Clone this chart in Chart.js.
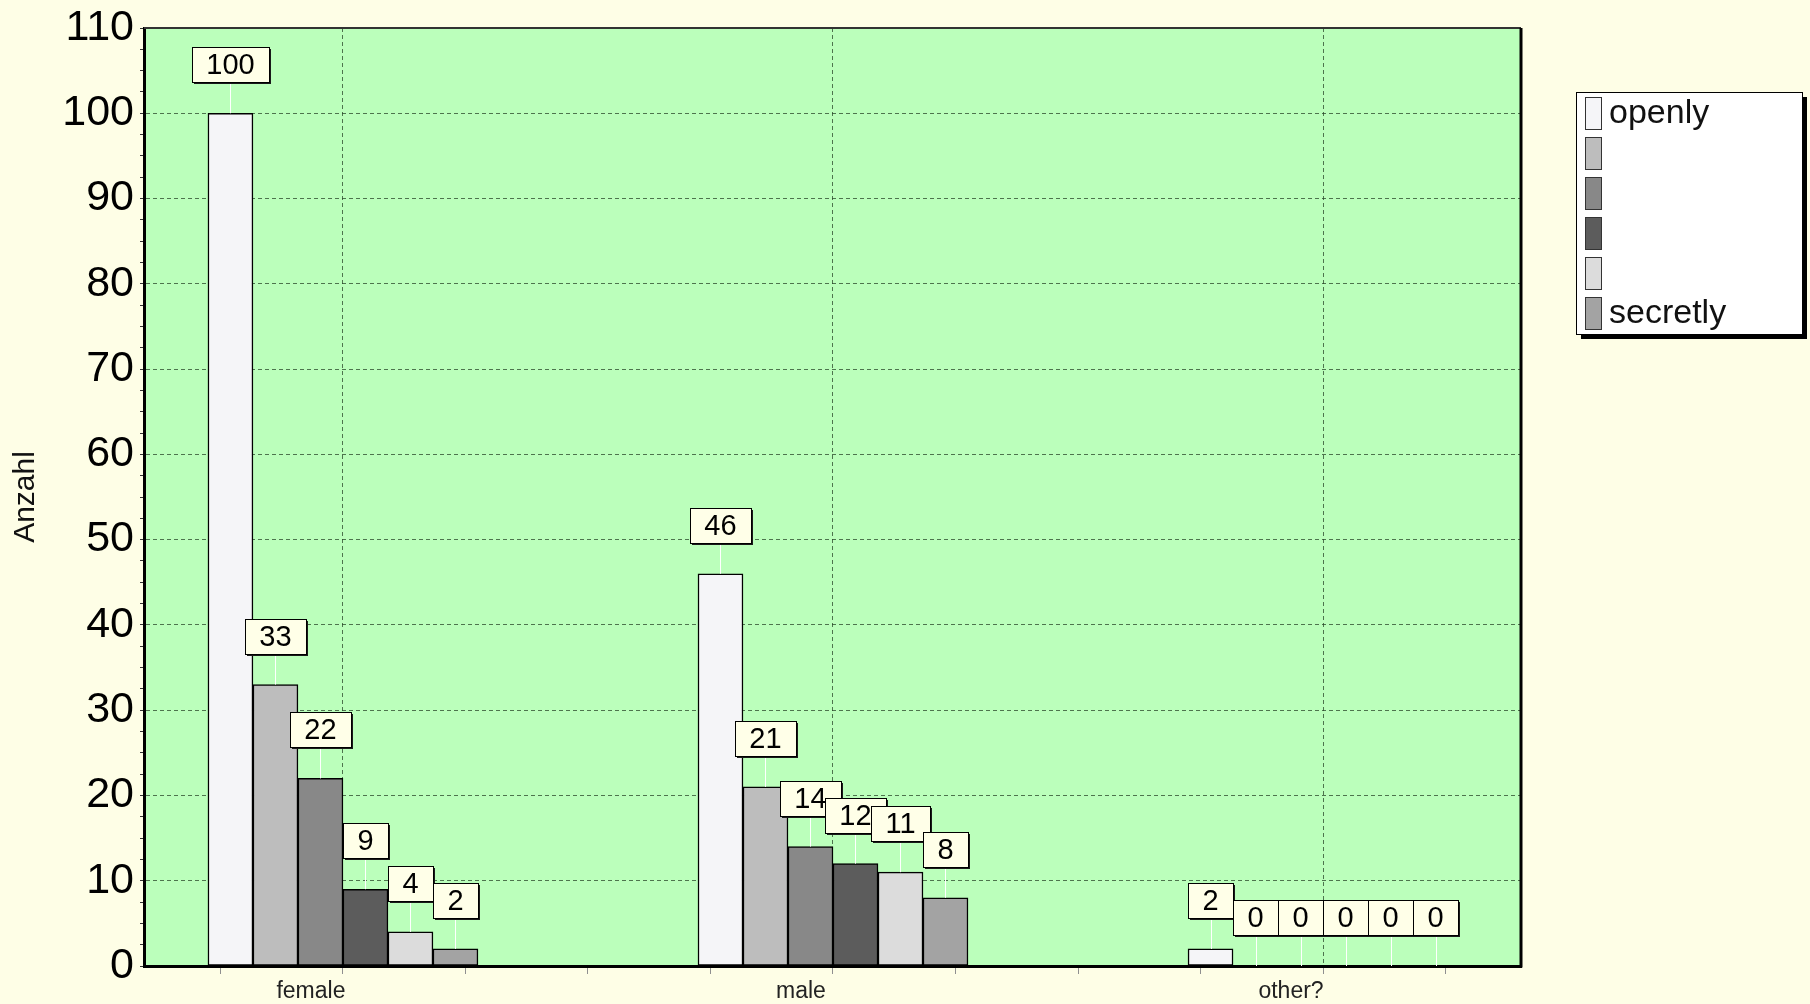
<!DOCTYPE html>
<html>
<head>
<meta charset="utf-8">
<script src="https://cdn.jsdelivr.net/npm/chart.js@4.4.1/dist/chart.umd.min.js"></script>
<style>
html,body{margin:0;padding:0;background:#FEFEE6;}
canvas{display:block;}
</style>
</head>
<body>
<canvas id="c" width="1810" height="1004"></canvas>
<script>
// ---- data ----
const categories = ['female', 'male', 'other?'];
const seriesLabels = ['openly', '', '', '', '', 'secretly'];
const series1 = [100, 46, 2];
const series2 = [33, 21, 0];
const series3 = [22, 14, 0];
const series4 = [9, 12, 0];
const series5 = [4, 11, 0];
const series6 = [2, 8, 0];
const yTickLabels = [0, 10, 20, 30, 40, 50, 60, 70, 80, 90, 100, 110];
const yAxisTitle = 'Anzahl';

// ---- styles ----
const FONT = '"Liberation Sans", Arial, Helvetica, sans-serif';
const seriesColors = ['#F5F5F8', '#BDBDBD', '#888888', '#5C5C5C', '#DCDCDC', '#A3A3A3'];
const allSeries = [series1, series2, series3, series4, series5, series6];
const PAGE_BG = '#FEFEE6';
const PLOT_BG = '#BBFFBB';
const GRID = 'rgba(40,70,40,0.75)';
const isInt = v => Math.abs(v - Math.round(v)) < 1e-6;

const datasets = allSeries.map((s, i) => ({
  label: seriesLabels[i],
  data: s.map((v, j) => ({ x: j, y: v })),
  backgroundColor: seriesColors[i],
  borderColor: '#000',
  borderWidth: 1.5,
  borderSkipped: false,
  barThickness: 45
}));

const framePlugin = {
  id: 'frame',
  beforeDraw(chart) {
    const { ctx, chartArea: a } = chart;
    ctx.save();
    ctx.fillStyle = PAGE_BG;
    ctx.fillRect(0, 0, chart.width, chart.height);
    ctx.fillStyle = PLOT_BG;
    ctx.fillRect(a.left, a.top, a.right - a.left, a.bottom - a.top);
    ctx.restore();
  },
  afterDraw(chart) {
    const { ctx, chartArea: a } = chart;
    ctx.save();
    // top and right frame
    ctx.strokeStyle = '#333';
    ctx.lineWidth = 2;
    ctx.beginPath();
    ctx.moveTo(a.left, a.top);
    ctx.lineTo(a.right, a.top);
    ctx.stroke();
    ctx.strokeStyle = '#000';
    ctx.lineWidth = 3;
    ctx.beginPath();
    ctx.moveTo(a.right, a.top);
    ctx.lineTo(a.right, a.bottom + 1.5);
    ctx.stroke();

    // data labels
    ctx.font = '29px ' + FONT;
    ctx.textAlign = 'center';
    ctx.textBaseline = 'middle';
    chart.data.datasets.forEach((ds, di) => {
      const meta = chart.getDatasetMeta(di);
      meta.data.forEach((bar, j) => {
        const txt = String(ds.data[j].y);
        const tw = ctx.measureText(txt).width;
        const w = Math.round(tw + 29), h = 35;
        const cx = bar.x;
        const x = Math.round(cx - w / 2);
        const yb = Math.round(bar.y - 31);
        const y = yb - h;
        ctx.strokeStyle = '#FFFFFF';
        ctx.lineWidth = 1;
        ctx.beginPath();
        ctx.moveTo(Math.round(cx) + 0.5, yb);
        ctx.lineTo(Math.round(cx) + 0.5, bar.y);
        ctx.stroke();
        ctx.fillStyle = '#1a1a1a';
        ctx.fillRect(x + 2, y + 2, w, h);
        ctx.fillStyle = '#FFFFE8';
        ctx.fillRect(x, y, w, h);
        ctx.strokeStyle = '#000';
        ctx.lineWidth = 1;
        ctx.strokeRect(x + 0.5, y + 0.5, w, h);
        ctx.fillStyle = '#000';
        ctx.fillText(txt, cx, y + h / 2 + 1);
      });
    });

    // legend
    const lx = 1576, ly = 92, lw = 226, lh = 242;
    ctx.fillStyle = '#000';
    ctx.fillRect(lx + 5, ly + 5, lw, lh);
    ctx.fillStyle = '#FFFFFF';
    ctx.fillRect(lx, ly, lw, lh);
    ctx.strokeStyle = '#000';
    ctx.lineWidth = 1;
    ctx.strokeRect(lx + 0.5, ly + 0.5, lw, lh);
    ctx.font = '34px ' + FONT;
    ctx.textAlign = 'left';
    ctx.textBaseline = 'middle';
    chart.data.datasets.forEach((ds, i) => {
      const sy = ly + 5 + 40 * i;
      ctx.fillStyle = ds.backgroundColor;
      ctx.fillRect(lx + 9, sy, 16, 32);
      ctx.strokeStyle = '#333';
      ctx.strokeRect(lx + 9.5, sy + 0.5, 16, 32);
      ctx.fillStyle = '#111';
      ctx.fillText(ds.label, lx + 33, sy + 17);
    });
    ctx.restore();
  }
};

new Chart(document.getElementById('c'), {
  type: 'bar',
  data: { datasets },
  plugins: [framePlugin],
  options: {
    responsive: false,
    animation: false,
    layout: { padding: { left: 0, right: 289, top: 28, bottom: 0 } },
    plugins: { legend: { display: false }, tooltip: { enabled: false }, title: { display: false } },
    scales: {
      x: {
        type: 'linear',
        min: -0.406,
        max: 2.404,
        offset: false,
        afterFit(s) { s.height = 38; },
        grid: {
          offset: false,
          drawOnChartArea: true,
          color: c => (c.tick && isInt(c.tick.value) && c.tick.value >= 0) ? GRID : 'transparent',
          lineWidth: 1,
          tickColor: '#8f8f8f',
          tickLength: 8,
          tickWidth: 1
        },
        border: { display: true, color: '#000', width: 3, dash: [4, 3] },
        ticks: {
          stepSize: 0.25,
          autoSkip: false,
          includeBounds: false,
          maxRotation: 0,
          labelOffset: -32,
          padding: 4,
          color: '#222',
          font: { family: FONT, size: 23 },
          callback: v => (isInt(v) && v >= 0 && v < categories.length) ? categories[Math.round(v)] : ''
        }
      },
      y: {
        type: 'linear',
        min: yTickLabels[0],
        max: yTickLabels[yTickLabels.length - 1],
        afterFit(s) { s.width = 144; s.paddingTop = 0; s.paddingBottom = 0; },
        grid: {
          color: c => (c.tick && isInt(c.tick.value / 10) && c.tick.value > 0 && c.tick.value < 110) ? GRID : 'transparent',
          lineWidth: 1,
          tickColor: '#333',
          tickLength: 4,
          tickWidth: 1
        },
        border: { display: true, color: '#000', width: 3, dash: [4, 3] },
        title: {
          display: true,
          text: yAxisTitle,
          color: '#111',
          font: { family: FONT, size: 30 },
          padding: { top: 8, bottom: 0 }
        },
        ticks: {
          stepSize: 2.5,
          autoSkip: false,
          padding: 6,
          color: '#000',
          font: { family: FONT, size: 43, lineHeight: 1 },
          callback: v => yTickLabels.includes(v) ? String(v) : ''
        }
      }
    }
  }
});
</script>
</body>
</html>
